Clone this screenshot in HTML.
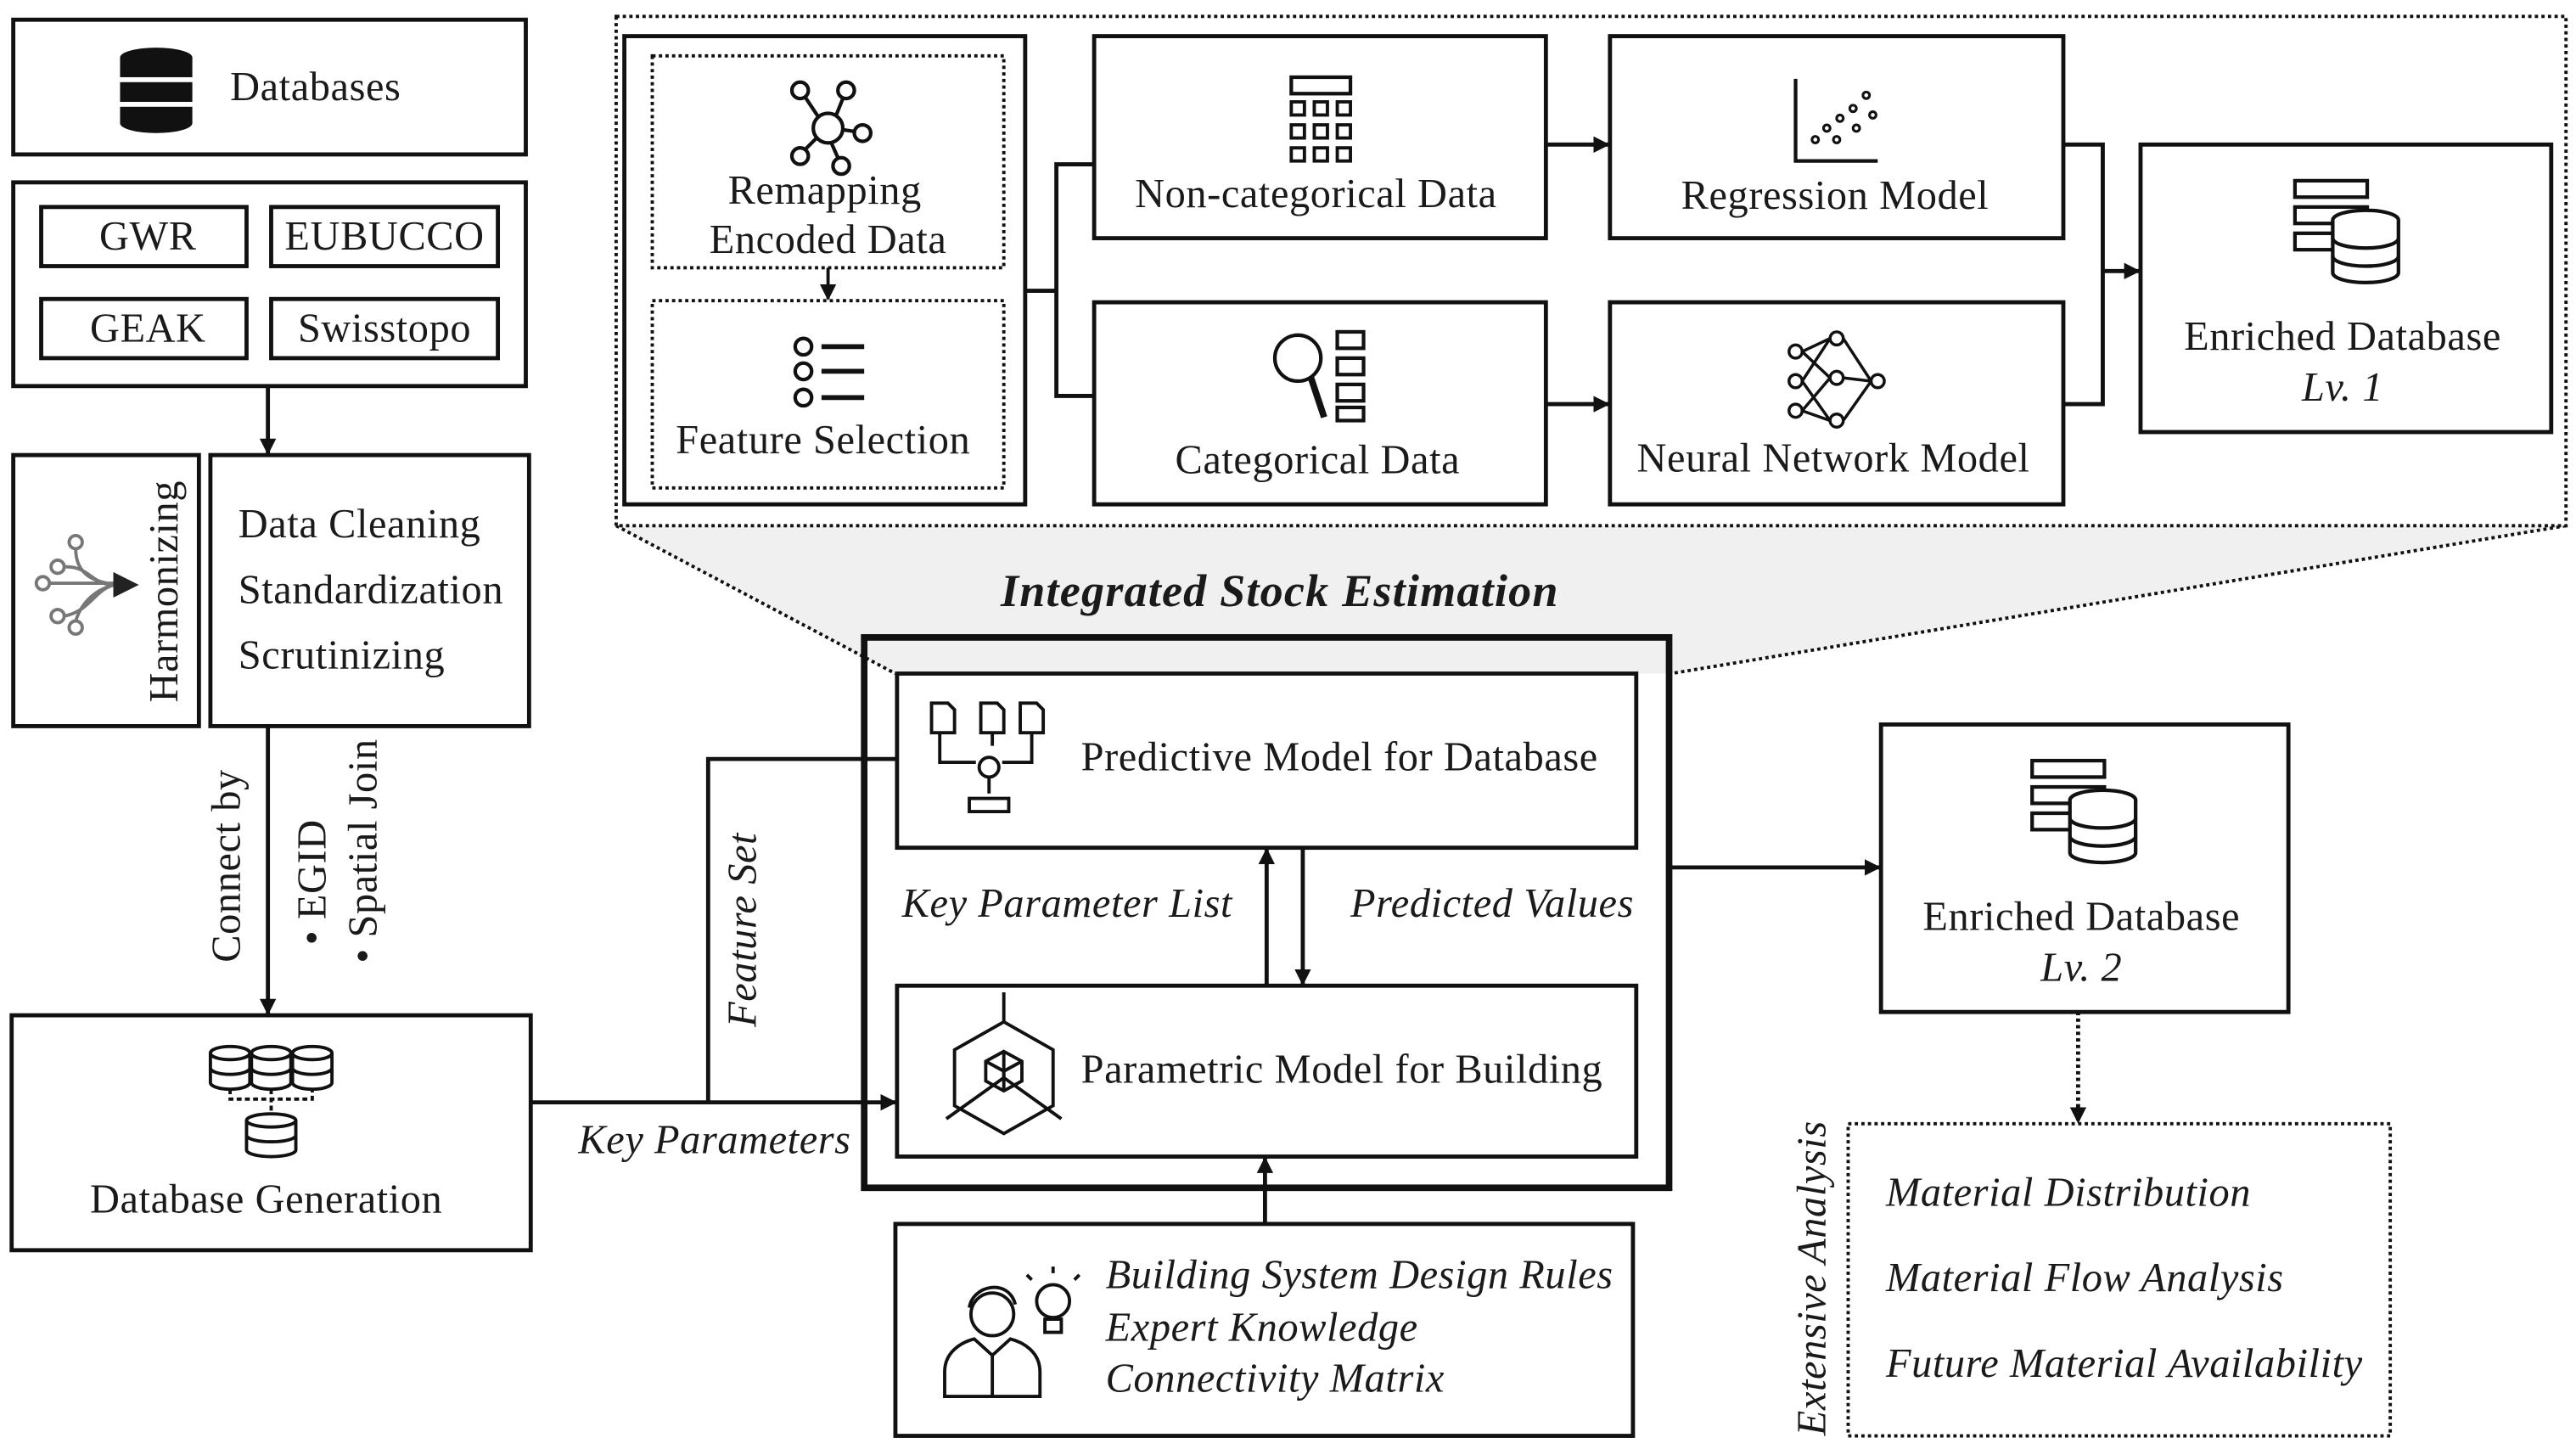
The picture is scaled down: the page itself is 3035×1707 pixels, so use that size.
<!DOCTYPE html>
<html><head><meta charset="utf-8"><style>
html,body{margin:0;padding:0;background:#fff;}
svg{display:block;}
text{font-family:"Liberation Serif",serif;fill:#1a1a1a;}
.t{font-size:25px;letter-spacing:0.3px;}
.i{font-size:25px;font-style:italic;letter-spacing:0.3px;}
</style></head><body>
<svg width="3035" height="1707" viewBox="0 0 1568 882" xmlns="http://www.w3.org/2000/svg">
<defs>
<marker id="a" markerWidth="10" markerHeight="10" refX="9" refY="5" orient="auto" markerUnits="userSpaceOnUse"><path d="M0,0 L10,5 L0,10 z" fill="#111"/></marker>
</defs>
<g stroke="#111" fill="none" stroke-width="2.5">
<polygon points="375,320 1562,320 1017,410 545,410" fill="#f0f0f0" stroke="none"/>
<line x1="375" y1="320" x2="545" y2="410" stroke-dasharray="2,2" stroke-width="2"/>
<line x1="1562" y1="320" x2="1017" y2="410" stroke-dasharray="2,2" stroke-width="2"/>
<rect x="375" y="10" width="1187" height="310" stroke-dasharray="2,2" stroke-width="2" fill="#fff"/>

<rect x="8" y="12" width="312" height="82" fill="#fff"/>
<rect x="8" y="111" width="312" height="124" fill="#fff"/>
<rect x="25" y="126" width="125" height="36"/>
<rect x="165" y="126" width="138" height="36"/>
<rect x="25" y="182" width="125" height="36"/>
<rect x="165" y="182" width="138" height="36"/>
<line x1="163" y1="235" x2="163" y2="276" marker-end="url(#a)"/>
<rect x="8" y="277" width="113" height="165"/>
<rect x="128" y="277" width="194" height="165"/>
<line x1="163" y1="442" x2="163" y2="617" marker-end="url(#a)"/>
<rect x="7" y="618" width="316" height="143"/>
<polyline points="323,671 545,671" marker-end="url(#a)"/>
<polyline points="431,671 431,462 545,462"/>

<rect x="526" y="388" width="490" height="335" stroke-width="4"/>
<rect x="546" y="410" width="450" height="106" fill="#fff"/>
<rect x="546" y="600" width="450" height="104" fill="#fff"/>
<line x1="771" y1="600" x2="771" y2="517" marker-end="url(#a)"/>
<line x1="793" y1="516" x2="793" y2="599" marker-end="url(#a)"/>
<rect x="545" y="745" width="449" height="129"/>
<line x1="770" y1="745" x2="770" y2="705" marker-end="url(#a)"/>
<line x1="1016" y1="528" x2="1144" y2="528" marker-end="url(#a)"/>
<rect x="1145" y="441" width="248" height="175"/>
<line x1="1265" y1="616" x2="1265" y2="683" stroke-dasharray="2,2" marker-end="url(#a)"/>
<rect x="1125" y="684" width="330" height="190" stroke-dasharray="2,2" stroke-width="2"/>

<rect x="380" y="22" width="244" height="285"/>
<rect x="397" y="34" width="214" height="129" stroke-dasharray="2,2" stroke-width="2"/>
<rect x="397" y="183" width="214" height="114" stroke-dasharray="2,2" stroke-width="2"/>
<line x1="504" y1="163" x2="504" y2="182" marker-end="url(#a)" stroke-width="2"/>
<polyline points="624,177 643,177"/>
<polyline points="666,100 643,100 643,241 666,241"/>
<rect x="666" y="22" width="275" height="123"/>
<rect x="666" y="184" width="275" height="123"/>
<rect x="980" y="22" width="276" height="123"/>
<rect x="980" y="184" width="276" height="123"/>
<line x1="941" y1="88" x2="979" y2="88" marker-end="url(#a)"/>
<line x1="941" y1="246" x2="979" y2="246" marker-end="url(#a)"/>
<polyline points="1256,88 1280,88 1280,246 1256,246"/>
<line x1="1280" y1="165" x2="1302" y2="165" marker-end="url(#a)"/>
<rect x="1303" y="88" width="250" height="175"/>
</g>

<g fill="#111">
<ellipse cx="95" cy="35" rx="22" ry="6"/><rect x="73" y="35" width="44" height="12"/><rect x="73" y="50" width="44" height="12"/><rect x="73" y="65" width="44" height="10"/><ellipse cx="95" cy="75" rx="22" ry="6"/>
</g>
<g stroke="#111" fill="none" stroke-width="2.2">
<circle cx="504" cy="78" r="9"/><circle cx="487" cy="55" r="5"/><circle cx="515" cy="55" r="5"/><circle cx="525" cy="81" r="5"/><circle cx="487" cy="95" r="5"/><circle cx="512" cy="101" r="5"/>
<path d="M490,59 L498,71 M513,60 L509,70 M513,79 L520,80 M497,84 L490,91 M506,87 L510,96"/>
<circle cx="489" cy="211" r="5"/><circle cx="489" cy="226" r="5"/><circle cx="489" cy="242" r="5"/>
<line x1="500" y1="211" x2="526" y2="211" stroke-width="3"/><line x1="500" y1="226" x2="526" y2="226" stroke-width="3"/><line x1="500" y1="242" x2="526" y2="242" stroke-width="3"/>
<rect x="786" y="47" width="36" height="10"/>
<g stroke-width="2"><rect x="786" y="62" width="8" height="8"/><rect x="800" y="62" width="8" height="8"/><rect x="814" y="62" width="8" height="8"/><rect x="786" y="76" width="8" height="8"/><rect x="800" y="76" width="8" height="8"/><rect x="814" y="76" width="8" height="8"/><rect x="786" y="90" width="8" height="8"/><rect x="800" y="90" width="8" height="8"/><rect x="814" y="90" width="8" height="8"/></g>
<polyline points="1093,48 1093,98 1143,98"/>
<g stroke-width="1.6"><circle cx="1105" cy="85" r="2"/><circle cx="1112" cy="78" r="2"/><circle cx="1120" cy="72" r="2"/><circle cx="1128" cy="66" r="2"/><circle cx="1136" cy="58" r="2"/><circle cx="1118" cy="85" r="2"/><circle cx="1130" cy="78" r="2"/><circle cx="1140" cy="70" r="2"/></g>
<circle cx="790" cy="218" r="14"/><line x1="798" y1="230" x2="806" y2="254" stroke-width="4"/>
<rect x="814" y="202" width="16" height="10"/><rect x="814" y="218" width="16" height="10"/><rect x="814" y="234" width="16" height="10"/><rect x="814" y="248" width="16" height="8"/>
<g stroke-width="1.8"><circle cx="1093" cy="214" r="4"/><circle cx="1093" cy="232" r="4"/><circle cx="1093" cy="250" r="4"/><circle cx="1118" cy="206" r="4"/><circle cx="1118" cy="230" r="4"/><circle cx="1118" cy="256" r="4"/><circle cx="1143" cy="232" r="4"/>
<path d="M1097,214 L1114,206 M1097,214 L1114,230 M1097,232 L1114,206 M1097,232 L1114,256 M1097,250 L1114,230 M1097,250 L1114,256 M1122,206 L1139,232 M1122,230 L1139,232 M1122,256 L1139,232"/></g>
<g stroke-width="2.2"><rect x="1397" y="110" width="44" height="10"/><rect x="1397" y="126" width="44" height="10"/><rect x="1397" y="142" width="44" height="10"/><ellipse cx="1440" cy="134" rx="20" ry="6" fill="#fff"/><path d="M1420,134 v32 a20,6 0 0 0 40,0 v-32" fill="#fff"/><path d="M1420,145 a20,6 0 0 0 40,0 M1420,156 a20,6 0 0 0 40,0"/></g>
<g stroke-width="2.2"><rect x="1237" y="463" width="44" height="10"/><rect x="1237" y="479" width="44" height="10"/><rect x="1237" y="495" width="44" height="10"/><ellipse cx="1280" cy="487" rx="20" ry="6" fill="#fff"/><path d="M1260,487 v32 a20,6 0 0 0 40,0 v-32" fill="#fff"/><path d="M1260,498 a20,6 0 0 0 40,0 M1260,509 a20,6 0 0 0 40,0"/></g>
<g stroke="#777" stroke-width="2"><circle cx="46" cy="330" r="4"/><circle cx="26" cy="355" r="4"/><circle cx="35" cy="375" r="4"/><circle cx="46" cy="382" r="4"/><circle cx="35" cy="345" r="4"/><path d="M40,345 C55,345 55,356 70,356 M30,355 H70 M46,334 C46,352 60,354 70,356 M39,375 C55,372 58,358 70,356 M46,378 C50,365 60,358 70,356"/></g>
<path d="M70,350 L82,356 L70,362 z" fill="#222" stroke="#222"/>
<g stroke-width="2"><ellipse cx="140" cy="641" rx="12" ry="4"/><path d="M128,641 v18 a12,4 0 0 0 24,0 v-18 M128,650 a12,4 0 0 0 24,0"/><ellipse cx="165" cy="641" rx="12" ry="4"/><path d="M153,641 v18 a12,4 0 0 0 24,0 v-18 M153,650 a12,4 0 0 0 24,0"/><ellipse cx="190" cy="641" rx="12" ry="4"/><path d="M178,641 v18 a12,4 0 0 0 24,0 v-18 M178,650 a12,4 0 0 0 24,0"/><ellipse cx="165" cy="682" rx="15" ry="4"/><path d="M150,682 v18 a15,4 0 0 0 30,0 v-18 M150,691 a15,4 0 0 0 30,0"/><path d="M165,663 v15 M140,663 v6 h50 v-6" stroke-dasharray="3,2"/></g>
<g stroke-width="2"><path d="M567,428 h10 l4,4 v14 h-14 z M597,428 h10 l4,4 v14 h-14 z M621,428 h10 l4,4 v14 h-14 z"/><path d="M572,446 v18 h22 M628,446 v18 h-18 M604,446 v8"/><circle cx="602" cy="467" r="6"/><path d="M602,473 v10"/><rect x="590" y="486" width="24" height="8"/></g>
<g stroke-width="2"><path d="M611,622 l30,17 v34 l-30,17 l-30,-17 v-34 z"/><path d="M611,622 v-18 M611,656 l-35,25 M611,656 l35,25 M611,640 v16"/><path d="M611,640 l11,6 v12 l-11,6 l-11,-6 v-12 z M600,646 l11,6 l11,-6 M611,652 v12"/></g>
<g stroke-width="2"><circle cx="604" cy="800" r="13"/><path d="M590,796 c2,-14 24,-18 28,-2"/><path d="M575,850 v-15 c0,-12 10,-18 18,-20 l11,10 l11,-10 c8,2 18,8 18,20 v15 z M604,825 v25"/><circle cx="641" cy="792" r="10"/><path d="M636,803 h10 v8 h-10 z M641,775 v-4 M628,779 l-3,-3 M654,779 l3,-3"/></g>
</g>

<text class="t" x="140" y="61">Databases</text>
<text class="t" x="90" y="152" text-anchor="middle">GWR</text>
<text class="t" x="234" y="152" text-anchor="middle">EUBUCCO</text>
<text class="t" x="90" y="208" text-anchor="middle">GEAK</text>
<text class="t" x="234" y="208" text-anchor="middle">Swisstopo</text>
<text class="t" transform="translate(108,360) rotate(-90)" text-anchor="middle">Harmonizing</text>
<text class="t" x="145" y="327">Data Cleaning</text>
<text class="t" x="145" y="367">Standardization</text>
<text class="t" x="145" y="407">Scrutinizing</text>
<text class="t" transform="translate(146,527) rotate(-90)" text-anchor="middle">Connect by</text>
<text class="t" transform="translate(198,537) rotate(-90)" text-anchor="middle">• EGID</text>
<text class="t" transform="translate(229,518) rotate(-90)" text-anchor="middle">• Spatial Join</text>
<text class="t" x="162" y="738" text-anchor="middle">Database Generation</text>
<text class="i" transform="translate(460,566) rotate(-90)" text-anchor="middle">Feature Set</text>
<text class="i" x="352" y="702">Key Parameters</text>
<text x="779" y="369" text-anchor="middle" style="font-size:28px;font-weight:bold;font-style:italic;letter-spacing:0.6px">Integrated Stock Estimation</text>
<text class="t" x="658" y="469">Predictive Model for Database</text>
<text class="t" x="658" y="659">Parametric Model for Building</text>
<text class="i" x="549" y="558">Key Parameter List</text>
<text class="i" x="822" y="558">Predicted Values</text>
<text class="i" x="673" y="784">Building System Design Rules</text>
<text class="i" x="673" y="816">Expert Knowledge</text>
<text class="i" x="673" y="847">Connectivity Matrix</text>
<text class="t" x="1267" y="566" text-anchor="middle">Enriched Database</text>
<text class="i" x="1267" y="597" text-anchor="middle">Lv. 2</text>
<text class="i" transform="translate(1111,778) rotate(-90)" text-anchor="middle">Extensive Analysis</text>
<text class="i" x="1148" y="734">Material Distribution</text>
<text class="i" x="1148" y="786">Material Flow Analysis</text>
<text class="i" x="1148" y="838">Future Material Availability</text>
<text class="t" x="502" y="124" text-anchor="middle">Remapping</text>
<text class="t" x="504" y="154" text-anchor="middle">Encoded Data</text>
<text class="t" x="501" y="276" text-anchor="middle">Feature Selection</text>
<text class="t" x="801" y="126" text-anchor="middle">Non-categorical Data</text>
<text class="t" x="802" y="288" text-anchor="middle">Categorical Data</text>
<text class="t" x="1117" y="127" text-anchor="middle">Regression Model</text>
<text class="t" x="1116" y="287" text-anchor="middle">Neural Network Model</text>
<text class="t" x="1426" y="213" text-anchor="middle">Enriched Database</text>
<text class="i" x="1426" y="244" text-anchor="middle">Lv. 1</text>
</svg>
</body></html>
